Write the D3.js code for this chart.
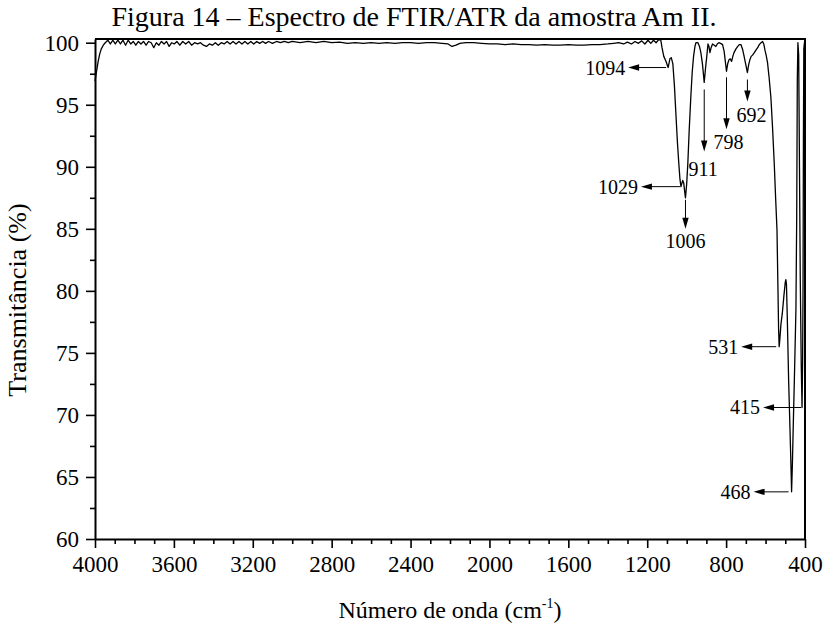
<!DOCTYPE html>
<html>
<head>
<meta charset="utf-8">
<script src="https://cdn.jsdelivr.net/npm/d3@7"></script>
<style>
  body { margin: 0; background: #fff; }
  svg text { font-family: "Liberation Serif", "Times New Roman", Times, serif; fill: #000; }
</style>
</head>
<body>
<svg id="chart" width="825" height="625" font-family="Liberation Serif, Times New Roman, serif"></svg>
<script>
// FTIR/ATR spectrum, wavenumber (cm-1) vs transmittance (%)
const wavenumber = [
  4000, 3992, 3984, 3976, 3968, 3958, 3948, 3935, 3922, 3910,
  3897, 3884, 3871, 3858, 3845, 3832, 3819, 3806, 3793, 3780,
  3767, 3754, 3741, 3728, 3715, 3702, 3689, 3676, 3663, 3650,
  3637, 3624, 3611, 3598, 3585, 3570, 3555, 3540, 3525, 3510,
  3495, 3480, 3465, 3450, 3435, 3420, 3405, 3390, 3375, 3360,
  3345, 3330, 3315, 3300, 3285, 3270, 3255, 3240, 3225, 3210,
  3195, 3180, 3165, 3150, 3135, 3120, 3100, 3080, 3060, 3040,
  3020, 3000, 2960, 2920, 2880, 2840, 2800, 2760, 2720, 2680,
  2640, 2600, 2560, 2520, 2480, 2440, 2400, 2360, 2320, 2280,
  2240, 2210, 2190, 2170, 2150, 2120, 2080, 2040, 2000, 1960,
  1920, 1880, 1840, 1800, 1760, 1720, 1680, 1640, 1600, 1560,
  1520, 1480, 1440, 1400, 1370, 1345, 1320, 1300, 1280, 1262,
  1245, 1228, 1212, 1196, 1182, 1168, 1155, 1142, 1131, 1125,
  1116, 1105, 1094, 1085, 1078, 1070, 1062, 1055, 1047, 1040,
  1034, 1029, 1020, 1015, 1010, 1006, 1000, 994, 987, 979,
  972, 965, 958, 953, 943, 935, 928, 920, 911, 904,
  898, 892, 887, 882, 876, 869, 860, 852, 845, 837,
  828, 818, 810, 804, 798, 792, 786, 779, 772, 766,
  760, 750, 741, 733, 725, 717, 710, 701, 692, 686,
  680, 673, 666, 657, 649, 640, 632, 623, 615, 609,
  603, 597, 590, 582, 573, 565, 556, 549, 542, 537,
  534, 531, 528, 522, 515, 507, 500, 497, 494, 490,
  483, 476, 471, 468, 464, 459, 454, 446, 442, 439,
  436, 432, 428, 424, 419, 415, 412, 410, 408, 406,
  403, 400
];
const transmittance = [
  96.9, 97.7, 98.5, 99.1, 99.5, 99.8, 100.0, 100.2, 99.9, 100.2,
  99.9, 100.2, 99.9, 100.2, 99.8, 100.2, 99.9, 100.1, 99.8, 100.1,
  99.9, 100.1, 99.8, 100.1, 100.0, 99.6, 100.0, 99.8, 100.1, 99.9,
  100.1, 99.7, 100.0, 99.9, 100.1, 99.8, 100.1, 99.9, 100.1, 99.8,
  100.0, 99.9, 100.0, 99.8, 99.7, 99.9, 99.8, 100.0, 99.8, 100.0,
  99.9, 100.1, 99.9, 100.1, 99.9, 100.1, 99.9, 100.1, 99.9, 100.1,
  99.9, 100.1, 99.95, 100.1, 99.95, 100.1, 99.95, 100.1, 100.0, 100.1,
  100.0, 100.1, 100.0, 100.1, 100.0, 100.1, 100.0, 100.05, 99.95, 100.0,
  99.95, 100.0, 99.95, 100.0, 99.95, 100.0, 100.0, 99.95, 100.0, 100.0,
  99.95, 99.9, 99.7, 99.8, 99.95, 100.0, 100.0, 99.95, 99.9, 99.9,
  99.85, 99.9, 99.85, 99.85, 99.8, 99.85, 99.8, 99.8, 99.85, 99.8,
  99.8, 99.85, 99.85, 99.9, 99.95, 100.0, 99.9, 100.05, 99.9, 100.1,
  99.95, 100.15, 99.9, 100.2, 99.95, 100.2, 100.0, 100.25, 100.2, 99.6,
  98.9, 98.5, 98.0, 98.7, 98.8, 98.3, 96.5, 94.4, 92.0, 90.3,
  89.0, 88.4, 88.9, 88.7, 88.0, 87.5, 88.6, 90.3, 93.0, 95.6,
  97.6, 98.9, 99.7, 100.0, 100.0, 99.7, 99.2, 98.3, 96.8, 98.0,
  98.9, 99.9, 99.7, 99.2, 99.6, 99.9, 99.8, 99.7, 99.9, 100.0,
  99.95, 99.85, 99.3, 98.5, 97.7, 98.3, 98.6, 98.7, 98.5, 98.9,
  99.2, 99.5, 99.7, 99.85, 99.85, 99.5, 99.0, 98.3, 97.6, 98.2,
  98.6, 98.9, 99.0, 99.2, 99.4, 99.6, 99.85, 100.0, 100.1, 99.9,
  99.4, 99.0, 98.4, 97.2, 95.6, 93.3, 90.3, 87.5, 84.9, 80.0,
  77.0, 75.5, 76.0, 77.3, 78.2, 79.6, 80.7, 80.9, 80.5, 78.0,
  72.8, 68.8, 65.8, 63.8, 66.0, 69.5, 72.8, 78.5, 86.0, 97.0,
  100.0, 99.0, 90.0, 81.0, 74.0, 70.6, 74.5, 80.0, 92.0, 99.5,
  100.0, 100.0
];

const xTickValues = [4000, 3600, 3200, 2800, 2400, 2000, 1600, 1200, 800, 400];
const yTickValues = [60, 65, 70, 75, 80, 85, 90, 95, 100];

// Band assignments marked on the spectrum
const peakLabels = ["1094", "1029", "1006", "911", "798", "692", "531", "468", "415"];
const peakWavenumber = [1094, 1029, 1006, 911, 798, 692, 531, 468, 415];
const peakTransmittance = [98.0, 88.4, 87.5, 96.8, 97.7, 97.6, 75.5, 63.8, 70.6];

const titleText = "Figura 14 – Espectro de FTIR/ATR da amostra Am II.";
const xTitle = "Número de onda (cm";
const yTitle = "Transmitância (%)";

// ---- layout ----
const W = 825, H = 625;
const plot = { left: 95, right: 805, top: 39, bottom: 539 };
const FONT = "Liberation Serif, Times New Roman, serif";

// arrow direction, gap from the band and length (px); text offsets
const arrowLayout = {
  "1094": { dir: "left", gap: 2, len: 38 },
  "1029": { dir: "left", gap: 1, len: 39 },
  "1006": { dir: "down", gap: 2, len: 29, dx: 0, dy: 19 },
  "911":  { dir: "down", gap: 7, len: 62, dx: -1, dy: 25 },
  "798":  { dir: "down", gap: 6, len: 52, dx: 2, dy: 20 },
  "692":  { dir: "down", gap: 7, len: 22, dx: 4, dy: 21 },
  "531":  { dir: "left", gap: 3, len: 35 },
  "468":  { dir: "left", gap: 3, len: 35 },
  "415":  { dir: "left", gap: 1, len: 38 }
};

const svg = d3.select("#chart");
svg.append("rect").attr("width", W).attr("height", H).attr("fill", "#fff");

const x = d3.scaleLinear().domain([4000, 400]).range([plot.left, plot.right]);
const y = d3.scaleLinear().domain([60, 100.3]).range([plot.bottom, plot.top]);

// minor ticks
const xMinor = d3.range(4000, 399, -100).filter(v => !xTickValues.includes(v));
const yMinor = d3.range(60, 100.1, 2.5).filter(v => !yTickValues.includes(v));

svg.append("g")
  .attr("transform", `translate(0,${plot.bottom})`)
  .call(d3.axisBottom(x).tickValues(xMinor).tickSize(5).tickSizeOuter(0).tickFormat(""))
  .call(g => g.select(".domain").remove())
  .call(g => g.selectAll("line").attr("stroke", "#000").attr("stroke-width", 1.6));

svg.append("g")
  .attr("transform", `translate(${plot.left},0)`)
  .call(d3.axisLeft(y).tickValues(yMinor).tickSize(5).tickSizeOuter(0).tickFormat(""))
  .call(g => g.select(".domain").remove())
  .call(g => g.selectAll("line").attr("stroke", "#000").attr("stroke-width", 1.6));

// major axes
const xAxis = svg.append("g")
  .attr("transform", `translate(0,${plot.bottom})`)
  .call(d3.axisBottom(x).tickValues(xTickValues).tickSize(9).tickSizeOuter(0).tickPadding(8).tickFormat(d3.format("d")));
xAxis.attr("font-family", FONT).attr("font-size", 23);
xAxis.selectAll("line").attr("stroke", "#000").attr("stroke-width", 1.6);
xAxis.select(".domain").attr("stroke", "#000").attr("stroke-width", 2);
xAxis.selectAll("text").attr("fill", "#000");

const yAxis = svg.append("g")
  .attr("transform", `translate(${plot.left},0)`)
  .call(d3.axisLeft(y).tickValues(yTickValues).tickSize(9).tickSizeOuter(0).tickPadding(7).tickFormat(d3.format("d")));
yAxis.attr("font-family", FONT).attr("font-size", 23);
yAxis.selectAll("line").attr("stroke", "#000").attr("stroke-width", 1.6);
yAxis.select(".domain").attr("stroke", "#000").attr("stroke-width", 2);
yAxis.selectAll("text").attr("fill", "#000");

// top and right frame
svg.append("path")
  .attr("d", `M${plot.left},${plot.top}H${plot.right}V${plot.bottom}`)
  .attr("fill", "none").attr("stroke", "#000").attr("stroke-width", 2);

// spectrum
const spectrum = wavenumber.map((w, i) => ({ w, t: transmittance[i] }));
svg.append("path")
  .datum(spectrum)
  .attr("fill", "none")
  .attr("stroke", "#000")
  .attr("stroke-width", 1.3)
  .attr("stroke-linejoin", "round")
  .attr("d", d3.line().x(d => x(d.w)).y(d => y(d.t)));

// annotations
const ann = svg.append("g").attr("font-family", FONT).attr("font-size", 20);
peakLabels.forEach((lab, i) => {
  const L = arrowLayout[lab];
  const px = x(peakWavenumber[i]);
  const py = y(peakTransmittance[i]);
  const head = 11, half = 3.2;
  if (L.dir === "left") {
    const x0 = px - L.gap, x1 = x0 - L.len;
    ann.append("line").attr("x1", x0).attr("y1", py).attr("x2", x1 + head - 1).attr("y2", py)
      .attr("stroke", "#000").attr("stroke-width", 1);
    ann.append("path")
      .attr("d", `M${x1},${py}L${x1 + head},${py - half}L${x1 + head},${py + half}Z`)
      .attr("fill", "#000");
    ann.append("text").attr("x", x1 - 3).attr("y", py + 7)
      .attr("text-anchor", "end").text(lab);
  } else {
    const y0 = py + L.gap, y1 = y0 + L.len;
    ann.append("line").attr("x1", px).attr("y1", y0).attr("x2", px).attr("y2", y1 - head + 1)
      .attr("stroke", "#000").attr("stroke-width", 1);
    ann.append("path")
      .attr("d", `M${px},${y1}L${px - half},${y1 - head}L${px + half},${y1 - head}Z`)
      .attr("fill", "#000");
    ann.append("text").attr("x", px + L.dx).attr("y", y1 + L.dy)
      .attr("text-anchor", "middle").text(lab);
  }
});

// titles
svg.append("text")
  .attr("x", 414).attr("y", 26)
  .attr("text-anchor", "middle").attr("font-size", 28)
  .attr("font-family", FONT)
  .text(titleText);

const xt = svg.append("text")
  .attr("x", (plot.left + plot.right) / 2).attr("y", 618)
  .attr("text-anchor", "middle").attr("font-size", 24)
  .attr("font-family", FONT);
xt.append("tspan").text(xTitle);
xt.append("tspan").attr("font-size", 14).attr("dy", -10).text("-1");
xt.append("tspan").attr("dy", 10).text(")");

svg.append("text")
  .attr("transform", `translate(26,300) rotate(-90)`)
  .attr("text-anchor", "middle").attr("font-size", 26)
  .attr("font-family", FONT)
  .text(yTitle);
</script>
</body>
</html>
